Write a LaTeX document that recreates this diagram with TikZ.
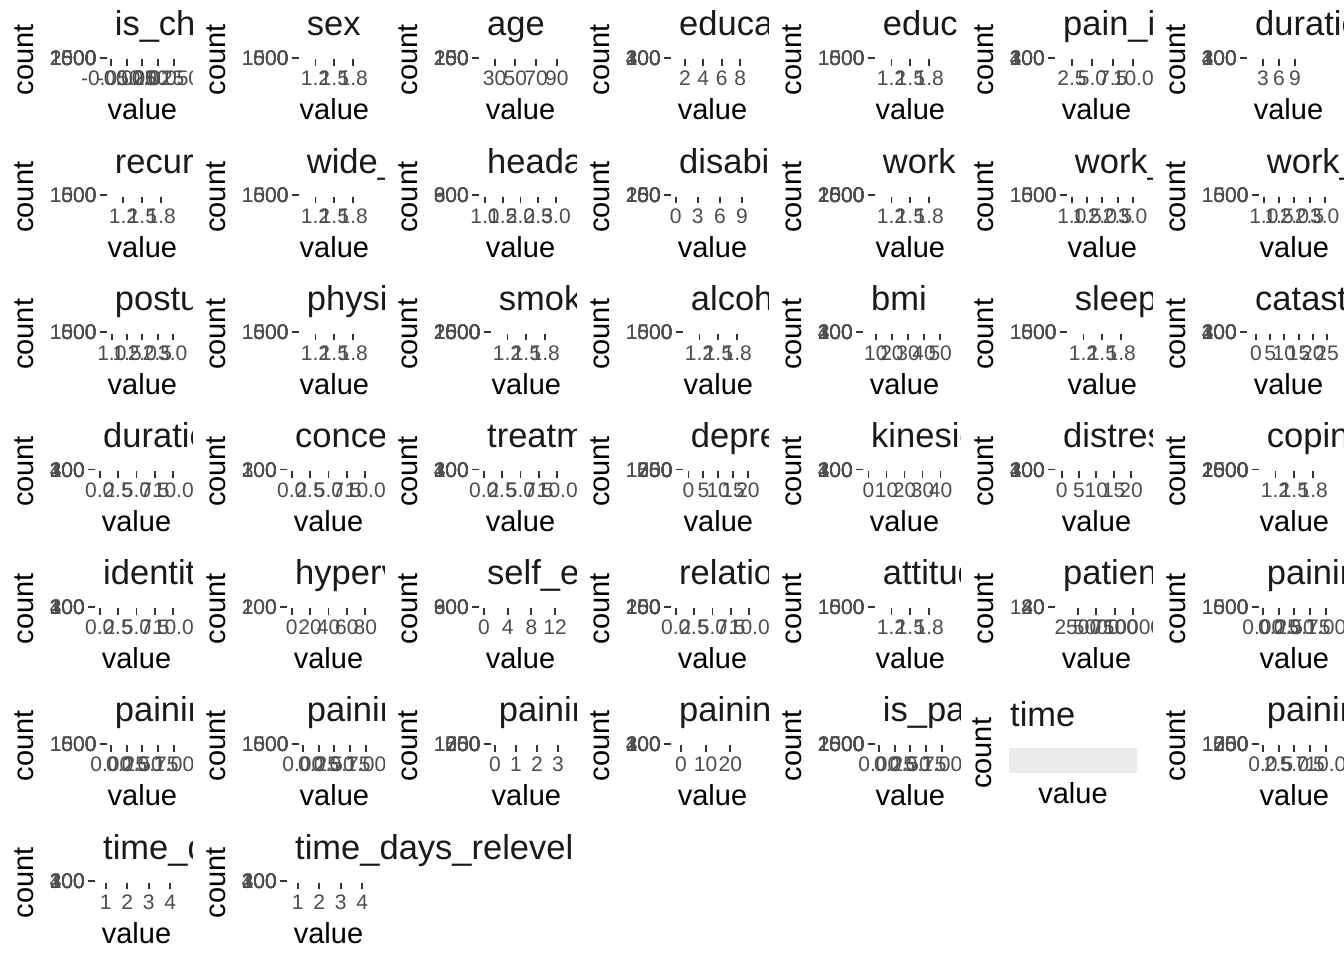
\documentclass[tikz,border=0pt]{standalone}
\usepackage{fontspec}
\setmainfont{Liberation Sans}
\definecolor{tickcol}{HTML}{333333}
\definecolor{labcol}{HTML}{4D4D4D}
\definecolor{stripcol}{HTML}{1A1A1A}
\definecolor{panelbg}{HTML}{EBEBEB}
\tikzset{
  tickline/.style={draw=tickcol, line width=1.9pt},
  ylab/.style={anchor=base east, inner sep=0pt, text=labcol, font=\fontsize{21}{21}\selectfont},
  xlab/.style={anchor=base, inner sep=0pt, text=labcol, font=\fontsize{21}{21}\selectfont},
  axtitle/.style={anchor=base, inner sep=0pt, text=black, font=\fontsize{29}{29}\selectfont},
  striptext/.style={anchor=base west, inner sep=0pt, text=stripcol, font=\fontsize{34.5}{34.5}\selectfont},
  panelfill/.style={fill=panelbg, draw=none},
}
% #1 col, #2 row, #3 chars of y labels, #4 title, #5 y labels (macro),
% #6 x min, #7 x max, #8 ticks value/label, #9 clip width
\newcommand\fpanel[9]{%
  \pgfmathsetmacro\pxz{50+11.676*#3+11}%
  \begin{scope}[shift={(192*#1,137.17*#2)}]
    \clip (0,0) rectangle (#9,137.17);
    \node[axtitle, rotate=90] (cnt) at (33,60) {count};
    \node[striptext] (ttl) at (\pxz+7,36) {#4};
    \foreach \yl in #5 {\node[ylab] at (\pxz-11,65.5) {\yl};}
    \draw[tickline] (\pxz-8,58) -- (\pxz-1,58);
    \foreach \val/\lab in {#8} {
      \pgfmathsetmacro\tx{\pxz+((\val)-(#6))/((#7)-(#6))*(177-\pxz)}
      \draw[tickline] (\tx,59.5) -- (\tx,66);
      \node[xlab] at (\tx,86) {\lab};
    }
    \node[axtitle] (val) at ({(\pxz+177)/2},120) {value};
  \end{scope}}
\def\YA{0,500,1000,1500}
\def\YB{0,500,1000,1500,2000,2500}
\def\YC{0,100,200,300,400}
\def\YD{0,50,100,150,200,250}
\def\YE{0,300,600,900}
\def\YF{0,250,500,750,1000,1250}
\def\YG{0,100,200,300}
\def\YH{0,100,200}
\def\YI{0,40,80,120}
\begin{document}
\begin{tikzpicture}[x=1pt,y=-1pt]
\useasboundingbox (0,0) rectangle (1344,960);
\fill[white] (0,0) rectangle (1344,960);
% row 1
\fpanel{0}{0}{4}{is\_chronic}{\YB}{-0.055}{0.055}{-0.05/-0.050,-0.025/-0.025,0/0.000,0.025/0.025,0.05/0.050}{192}
\fpanel{1}{0}{4}{sex}{\YA}{0.95}{2.05}{1.2/1.2,1.5/1.5,1.8/1.8}{192}
\fpanel{2}{0}{3}{age}{\YD}{16}{94}{30/30,50/50,70/70,90/90}{192}
\fpanel{3}{0}{3}{education}{\YC}{0.6}{9.4}{2/2,4/4,6/6,8/8}{192}
\fpanel{4}{0}{4}{educ}{\YA}{0.95}{2.05}{1.2/1.2,1.5/1.5,1.8/1.8}{192}
\fpanel{5}{0}{3}{pain\_intensity}{\YC}{0.55}{10.45}{2.5/2.5,5/5.0,7.5/7.5,10/10.0}{192}
\fpanel{6}{0}{3}{duration}{\YC}{0.2}{15.4}{3/3,6/6,9/9}{192}
% row 2
\fpanel{0}{1}{4}{recurrence}{\YA}{0.95}{2.05}{1.2/1.2,1.5/1.5,1.8/1.8}{192}
\fpanel{1}{1}{4}{wide\_spread}{\YA}{0.95}{2.05}{1.2/1.2,1.5/1.5,1.8/1.8}{192}
\fpanel{2}{1}{3}{headache}{\YE}{0.862}{3.138}{1/1.0,1.5/1.5,2/2.0,2.5/2.5,3/3.0}{192}
\fpanel{3}{1}{3}{disability}{\YD}{-0.5}{10.5}{0/0,3/3,6/6,9/9}{192}
\fpanel{4}{1}{4}{work}{\YB}{0.95}{2.05}{1.2/1.2,1.5/1.5,1.8/1.8}{192}
\fpanel{5}{1}{4}{work\_ability}{\YA}{0.862}{3.138}{1/1.0,1.5/1.5,2/2.0,2.5/2.5,3/3.0}{192}
\fpanel{6}{1}{4}{work\_satisfaction}{\YA}{0.862}{3.138}{1/1.0,1.5/1.5,2/2.0,2.5/2.5,3/3.0}{192}
% row 3
\fpanel{0}{2}{4}{posture}{\YA}{0.862}{3.138}{1/1.0,1.5/1.5,2/2.0,2.5/2.5,3/3.0}{192}
\fpanel{1}{2}{4}{physical\_activity}{\YA}{0.95}{2.05}{1.2/1.2,1.5/1.5,1.8/1.8}{192}
\fpanel{2}{2}{4}{smoking}{\YB}{0.95}{2.05}{1.2/1.2,1.5/1.5,1.8/1.8}{192}
\fpanel{3}{2}{4}{alcohol}{\YA}{0.95}{2.05}{1.2/1.2,1.5/1.5,1.8/1.8}{192}
\fpanel{4}{2}{3}{bmi}{\YC}{2.6}{53}{10/10,20/20,30/30,40/40,50/50}{192}
\fpanel{5}{2}{4}{sleep\_quality}{\YA}{0.95}{2.05}{1.2/1.2,1.5/1.5,1.8/1.8}{192}
\fpanel{6}{2}{3}{catastrophizing}{\YC}{-2.8}{25.7}{0/0,5/5,10/10,15/15,20/20,25/25}{192}
% row 4
\fpanel{0}{3}{3}{duration\_beliefs}{\YC}{-0.5}{10.5}{0/0.0,2.5/2.5,5/5.0,7.5/7.5,10/10.0}{192}
\fpanel{1}{3}{3}{concern}{\YG}{-0.5}{10.5}{0/0.0,2.5/2.5,5/5.0,7.5/7.5,10/10.0}{192}
\fpanel{2}{3}{3}{treatment}{\YC}{-0.5}{10.5}{0/0.0,2.5/2.5,5/5.0,7.5/7.5,10/10.0}{192}
\fpanel{3}{3}{4}{depression}{\YF}{-1.6}{21.7}{0/0,5/5,10/10,15/15,20/20}{192}
\fpanel{4}{3}{3}{kinesiophobia}{\YC}{-2.5}{42.5}{0/0,10/10,20/20,30/30,40/40}{192}
\fpanel{5}{3}{3}{distress}{\YC}{-1.6}{21.7}{0/0,5/5,10/10,15/15,20/20}{192}
\fpanel{6}{3}{4}{coping}{\YB}{0.95}{2.05}{1.2/1.2,1.5/1.5,1.8/1.8}{192}
% row 5
\fpanel{0}{4}{3}{identity}{\YC}{-0.5}{10.5}{0/0.0,2.5/2.5,5/5.0,7.5/7.5,10/10.0}{192}
\fpanel{1}{4}{3}{hypervigilance}{\YH}{-4}{84}{0/0,20/20,40/40,60/60,80/80}{192}
\fpanel{2}{4}{3}{self\_efficacy}{\YE}{-0.65}{13}{0/0,4/4,8/8,12/12}{192}
\fpanel{3}{4}{3}{relationship}{\YD}{-0.5}{10.5}{0/0.0,2.5/2.5,5/5.0,7.5/7.5,10/10.0}{192}
\fpanel{4}{4}{4}{attitude}{\YA}{0.95}{2.05}{1.2/1.2,1.5/1.5,1.8/1.8}{192}
\fpanel{5}{4}{3}{patient\_id}{\YI}{-480}{10550}{2500/2500,5000/5000,7500/7500,10000/10000}{192}
\fpanel{6}{4}{4}{paininterference}{\YA}{-0.05}{1.05}{0/0.00,0.25/0.25,0.5/0.50,0.75/0.75,1/1.00}{192}
% row 6
\fpanel{0}{5}{4}{painintensity\_1}{\YA}{-0.05}{1.05}{0/0.00,0.25/0.25,0.5/0.50,0.75/0.75,1/1.00}{192}
\fpanel{1}{5}{4}{painintensity\_2}{\YA}{-0.05}{1.05}{0/0.00,0.25/0.25,0.5/0.50,0.75/0.75,1/1.00}{192}
\fpanel{2}{5}{4}{painintensity\_3}{\YF}{-0.15}{3.15}{0/0,1/1,2/2,3/3}{192}
\fpanel{3}{5}{3}{painintensity\_4}{\YC}{-3.6}{29.2}{0/0,10/10,20/20}{192}
\fpanel{4}{5}{4}{is\_pain}{\YB}{-0.05}{1.05}{0/0.00,0.25/0.25,0.5/0.50,0.75/0.75,1/1.00}{192}
\fpanel{6}{5}{4}{painintensity\_5}{\YF}{-0.5}{10.5}{0/0.0,2.5/2.5,5/5.0,7.5/7.5,10/10.0}{192}
% special panel: time
\begin{scope}[shift={(960,685.85)}]
  \node[axtitle, rotate=90] (tcnt) at (31,67.5) {count};
  \node[striptext] (tttl) at (50,41) {time};
  \path[panelfill] (49,62) rectangle (177,87);
  \node[axtitle] (tval) at (113,118) {value};
\end{scope}
% row 7
\fpanel{0}{6}{3}{time\_days}{\YC}{0.55}{4.32}{1/1,2/2,3/3,4/4}{192}
\fpanel{1}{6}{3}{time\_days\_relevel}{\YC}{0.55}{4.32}{1/1,2/2,3/3,4/4}{700}
\end{tikzpicture}
\end{document}
